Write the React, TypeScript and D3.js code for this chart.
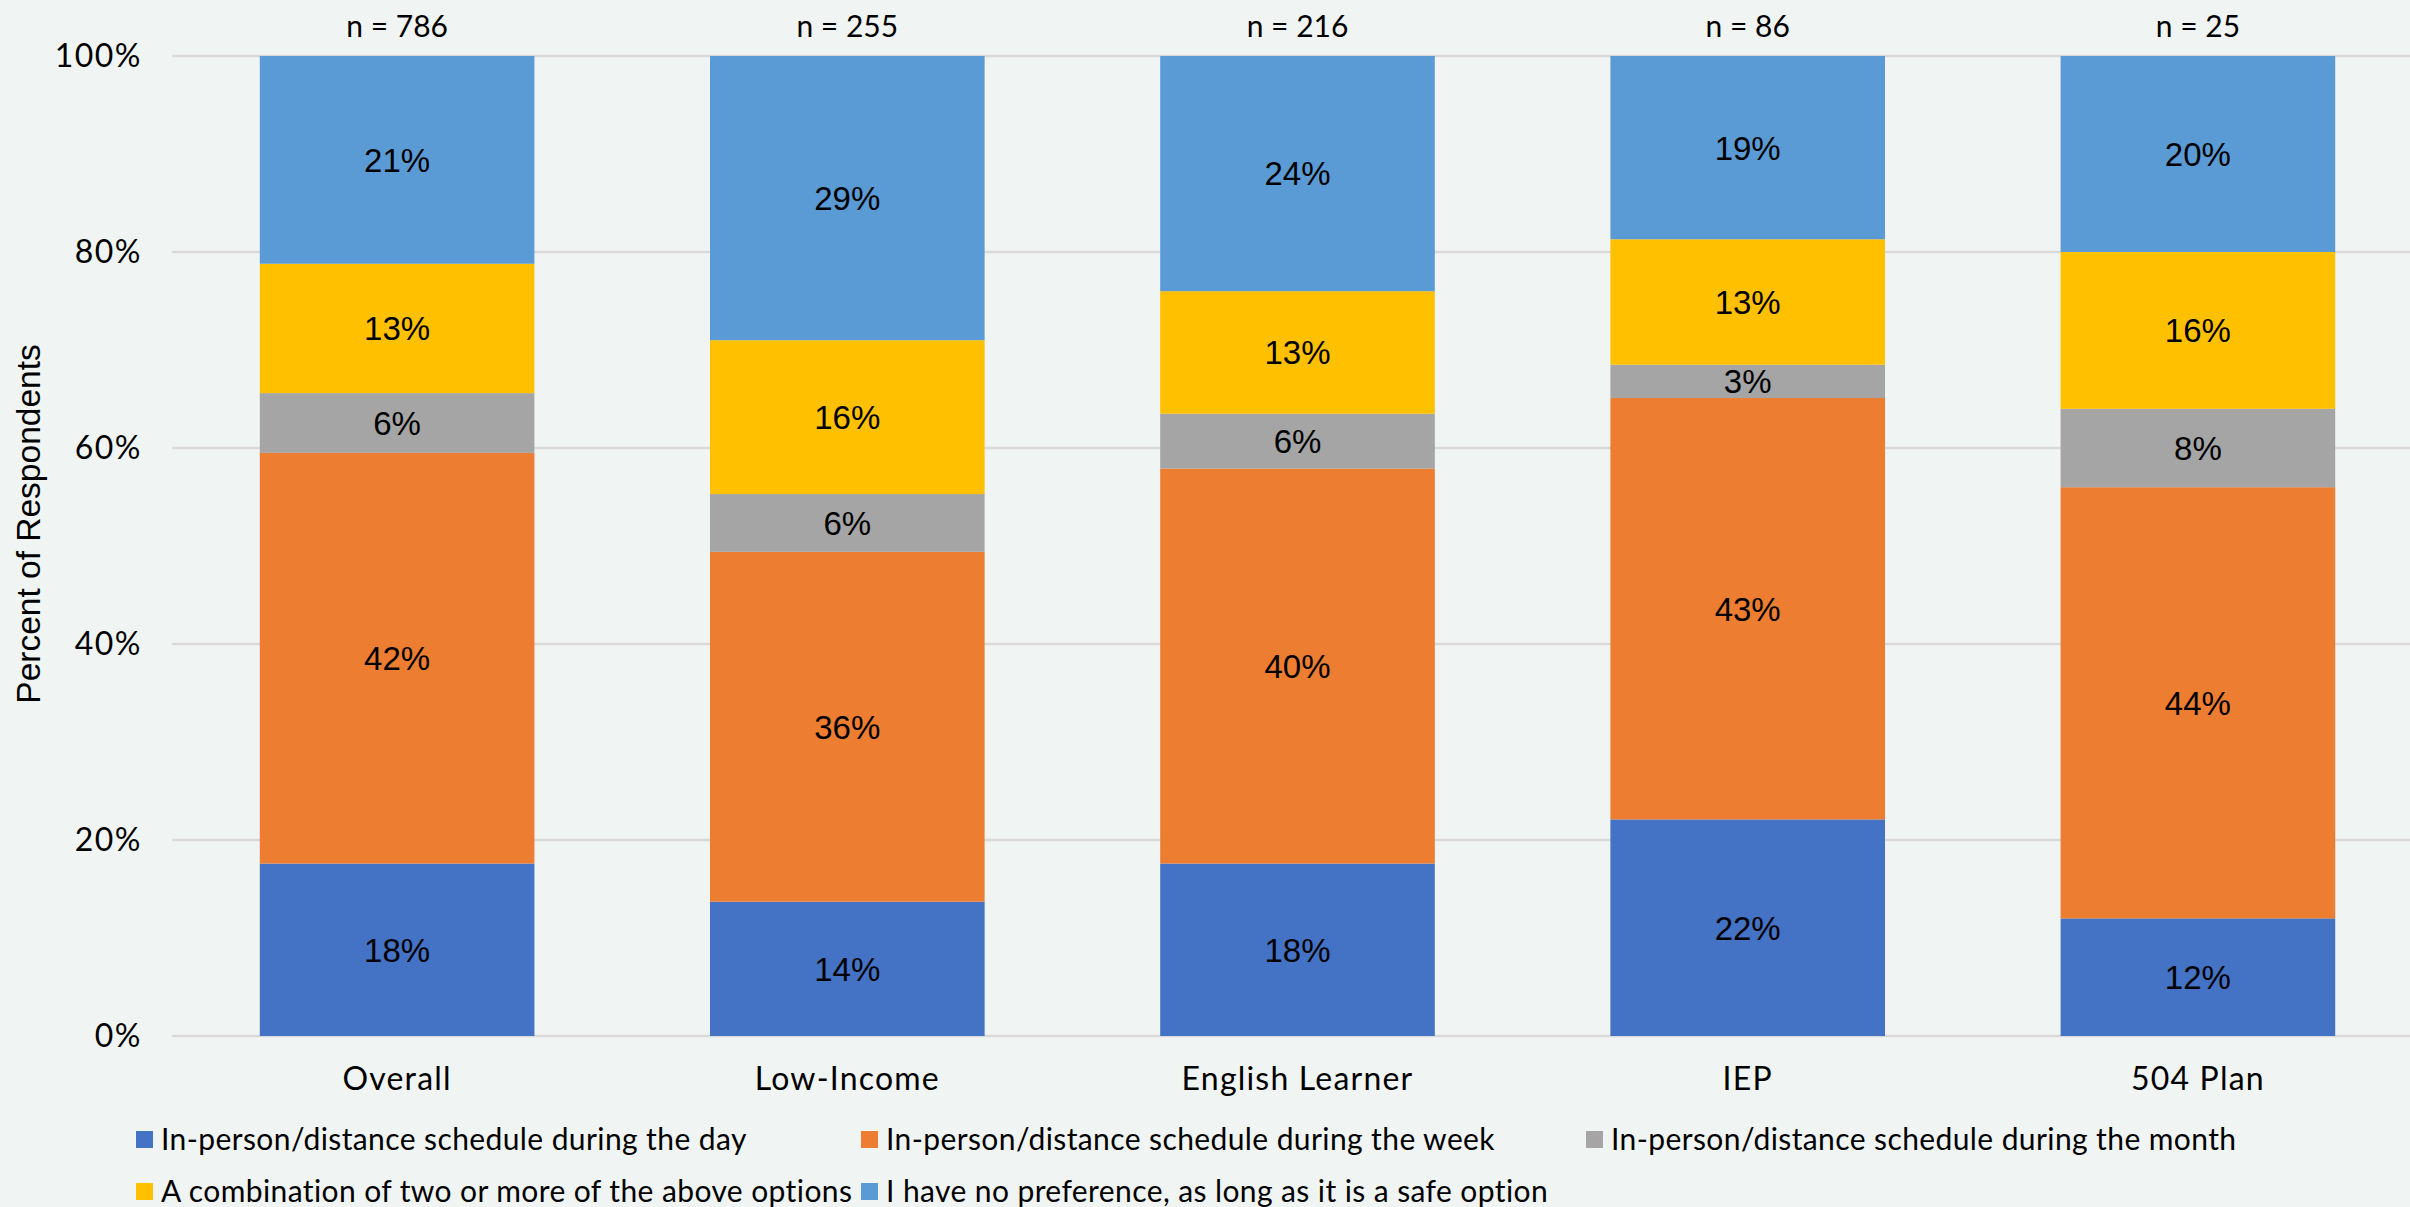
import React from "react";
import * as d3 from "d3";

const categories = ["Overall", "Low-Income", "English Learner", "IEP", "504 Plan"];
const sampleSizes = [786, 255, 216, 86, 25];
const seriesNames = [
  "In-person/distance schedule during the day",
  "In-person/distance schedule during the week",
  "In-person/distance schedule during the month",
  "A combination of two or more of the above options",
  "I have no preference, as long as it is a safe option",
];
const dayValues = [17.6, 13.7, 17.6, 22.1, 12.0];
const weekValues = [41.9, 35.7, 40.3, 43.0, 44.0];
const monthValues = [6.1, 5.9, 5.6, 3.4, 8.0];
const comboValues = [13.2, 15.7, 12.5, 12.8, 16.0];
const noPrefValues = [21.2, 29.0, 24.0, 18.7, 20.0];
const yTicks = [0, 20, 40, 60, 80, 100];
const colors = ["#4472C4", "#ED7D31", "#A5A5A5", "#FFC000", "#5B9BD5"];

const W = 2410;
const H = 1207;
const plotLeft = 172;
const plotRight = 2423;
const plotTop = 56;
const plotBottom = 1036;

const labelFont = "'Lato', 'Liberation Sans', sans-serif";
const arialFont = "'Liberation Sans', Arial, sans-serif";

export default function App() {
  const keys = ["day", "week", "month", "combo", "nopref"];
  const allSeries = [dayValues, weekValues, monthValues, comboValues, noPrefValues];
  const rows = categories.map((c, i) => {
    const r: any = { category: c };
    keys.forEach((k, j) => (r[k] = allSeries[j][i]));
    return r;
  });
  const stacked = d3.stack().keys(keys)(rows);

  const x = d3
    .scaleBand()
    .domain(categories)
    .range([plotLeft, plotRight])
    .paddingInner(0.39)
    .paddingOuter(0.195);
  const y = d3.scaleLinear().domain([0, 100]).range([plotBottom, plotTop]);

  const legendCols = [136, 861, 1586];
  const legendRows = [1131, 1183];

  return (
    <svg
      width={W}
      height={H}
      style={{ position: "absolute", left: 0, top: 0, display: "block" }}
    >
      <rect x={0} y={0} width={W} height={H} fill="#F0F5F3" />
      {yTicks.map((t) => (
        <line
          key={t}
          x1={plotLeft}
          x2={plotRight}
          y1={y(t)}
          y2={y(t)}
          stroke="#D9D9D9"
          strokeWidth={2.5}
        />
      ))}
      {yTicks.map((t) => (
        <text
          key={"t" + t}
          x={142}
          y={y(t)}
          dy="0.35em"
          textAnchor="end"
          fontFamily={labelFont}
          fontSize={32}
          letterSpacing={1.5}
          fill="#000"
        >
          {t + "%"}
        </text>
      ))}
      <text
        transform={`translate(40, 524) rotate(-90)`}
        textAnchor="middle"
        fontFamily={arialFont}
        fontSize={33.5}
        fill="#000"
      >
        Percent of Respondents
      </text>
      {stacked.map((s, si) => (
        <g key={s.key} fill={colors[si]}>
          {s.map((d, i) => (
            <rect
              key={i}
              x={x(categories[i])}
              y={y(d[1])}
              width={x.bandwidth()}
              height={y(d[0]) - y(d[1])}
            />
          ))}
        </g>
      ))}
      {stacked.map((s, si) => (
        <g key={"l" + s.key}>
          {s.map((d, i) => (
            <text
              key={i}
              x={(x(categories[i]) as number) + x.bandwidth() / 2}
              y={(y(d[0]) + y(d[1])) / 2}
              dy="0.36em"
              textAnchor="middle"
              fontFamily={arialFont}
              fontSize={33}
              fill="#000"
            >
              {Math.round(d[1] - d[0]) + "%"}
            </text>
          ))}
        </g>
      ))}
      {categories.map((c, i) => (
        <text
          key={"n" + c}
          x={(x(c) as number) + x.bandwidth() / 2}
          y={37}
          textAnchor="middle"
          fontFamily={labelFont}
          fontSize={30}
          fill="#000"
        >
          {"n = " + sampleSizes[i]}
        </text>
      ))}
      {categories.map((c) => (
        <text
          key={"c" + c}
          x={(x(c) as number) + x.bandwidth() / 2}
          y={1090}
          textAnchor="middle"
          fontFamily={labelFont}
          fontSize={32}
          letterSpacing={1.2}
          fill="#000"
        >
          {c}
        </text>
      ))}
      {seriesNames.map((name, i) => {
        const col = i % 3;
        const row = Math.floor(i / 3);
        const lx = legendCols[col];
        const ly = legendRows[row];
        return (
          <g key={"lg" + i}>
            <rect x={lx} y={ly} width={17} height={17} fill={colors[i]} />
            <text
              x={lx + 25}
              y={ly + 19}
              fontFamily={labelFont}
              fontSize={30}
              letterSpacing={0.4}
              fill="#000"
            >
              {name}
            </text>
          </g>
        );
      })}
    </svg>
  );
}
